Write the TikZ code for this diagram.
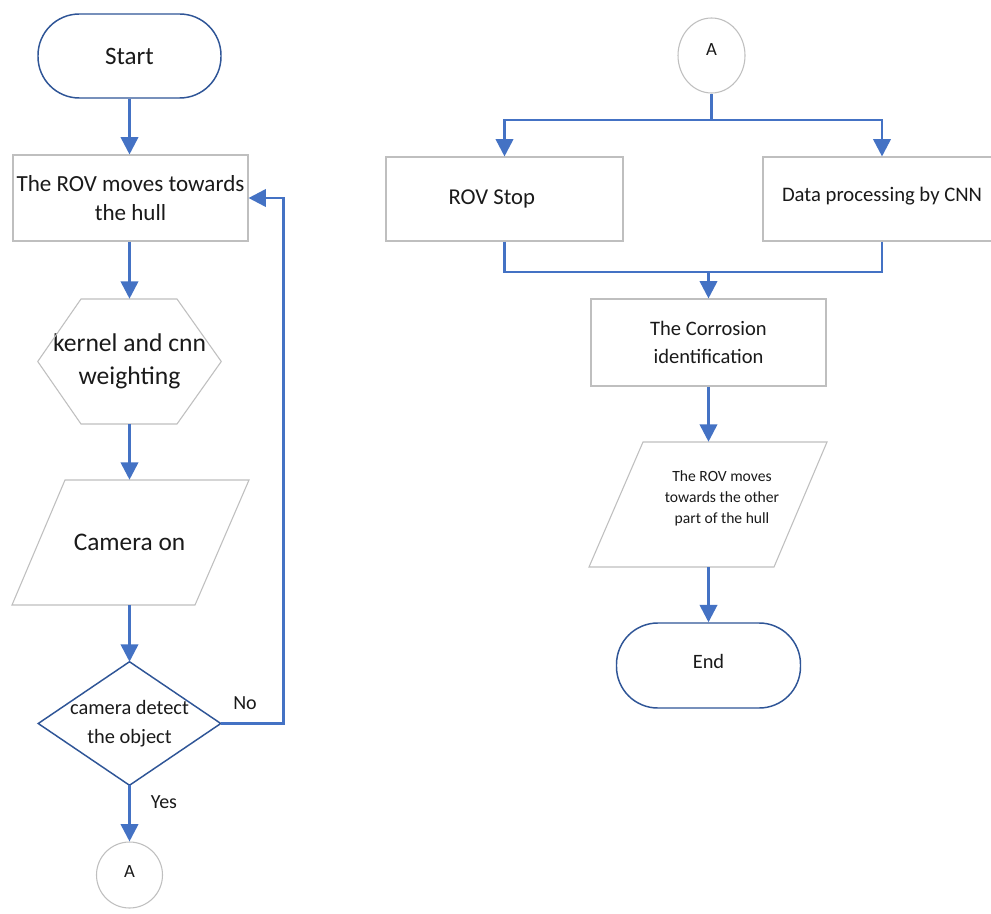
\documentclass[tikz,border=0pt]{standalone}
\usepackage{fontspec}
\setmainfont{Carlito}
\usetikzlibrary{arrows.meta,calc,shapes.geometric}
\definecolor{ablue}{HTML}{4472C4}
\definecolor{dblue}{HTML}{2F5597}
\definecolor{gbord}{HTML}{BFBFBF}
\definecolor{txt}{HTML}{1A1A1A}
\begin{document}
\begin{tikzpicture}[x=0.75pt,y=-0.75pt,
  conn/.style={ablue,line width=2pt},
  arr/.style={conn,-{Triangle[width=13pt,length=13pt]}},
  term/.style={draw=dblue,line width=1.1pt,rounded corners=31pt,inner sep=0pt,text=txt},
  gbox/.style={draw=gbord,line width=0.8pt,inner sep=0pt,text=txt,align=center},
  shp/.style={inner sep=0pt,text=txt,align=center},
  gline/.style={draw=gbord,line width=0.8pt},
  dline/.style={draw=dblue,line width=1.1pt},
  lbl/.style={inner sep=0pt,text=txt}
]
\useasboundingbox (0,0) rectangle (991,913);
\clip (0,0) rectangle (991,913);
\fill[white] (0,0) rectangle (991,913);

% ---------- left column ----------
\node[term,minimum width=137.25pt,minimum height=63pt,font=\fontsize{18.8}{22}\selectfont] (start) at (129.5,56) {\raisebox{-1.5pt}{Start}};

\node[gbox,minimum width=176.25pt,minimum height=64.5pt,font=\fontsize{17.3}{22}\selectfont] (b1) at (130.5,198) {The ROV moves towards\\the hull};

\node[shp,minimum width=137.25pt,minimum height=93.75pt,font=\fontsize{19.2}{24.5}\selectfont] (hex) at (129.5,361.5) {kernel and cnn\\weighting};
\draw[gline] (hex.west) -- (81,299) -- (177,299) -- (hex.east) -- (177,424) -- (81,424) -- cycle;

\node[shp,minimum width=100pt,minimum height=93.75pt,font=\fontsize{19}{23}\selectfont] (p1) at (129.5,542.5) {\raisebox{-2pt}{Camera on}};
\draw[gline] (65,480) -- (249,480) -- (195,605) -- (12,605) -- cycle;

\node[shp,minimum width=136.5pt,minimum height=92.25pt,font=\fontsize{15.3}{21.75}\selectfont] (dia) at (129.5,723.5) {camera detect\\the object};
\draw[dline] (dia.north) -- (dia.east) -- (dia.south) -- (dia.west) -- cycle;

\node[draw=gbord,line width=0.8pt,circle,minimum size=49.5pt,inner sep=0pt,text=txt,font=\fontsize{14}{16}\selectfont] (a1) at (129.5,875) {\raisebox{5pt}{A}};

\node[lbl,font=\fontsize{15}{18}\selectfont] (no) at (245,703) {No};
\node[lbl,font=\fontsize{15}{18}\selectfont] (yes) at (164,802) {Yes};

\draw[arr] (start.south) -- (start.south |- b1.north);
\draw[arr] (b1.south -| hex.north) -- (hex.north);
\draw[arr] (hex.south) -- (p1.north);
\draw[arr] (p1.south) -- (dia.north);
\draw[arr] (dia.south) -- (a1.north);
\coordinate (lr) at (283.5,723.5);
\draw[arr] (dia.east) -- (lr) |- (b1.east);

% ---------- right column ----------
\node[draw=gbord,line width=0.8pt,ellipse,minimum width=50.25pt,minimum height=56.25pt,inner sep=0pt,text=txt,font=\fontsize{14}{16}\selectfont] (a2) at (711.5,55.5) {\raisebox{9pt}{A}};

\node[gbox,minimum width=177.75pt,minimum height=63pt,font=\fontsize{17}{20}\selectfont] (stop) at (504.5,199) {\raisebox{-2pt}{ROV Stop\hspace{19pt}}};
\node[gbox,minimum width=178.5pt,minimum height=63pt,font=\fontsize{15.5}{19}\selectfont] (data) at (882,199) {\raisebox{7pt}{Data processing by CNN}};

\node[gbox,minimum width=176.25pt,minimum height=65.25pt,font=\fontsize{15.4}{21}\selectfont] (corr) at (708.5,342.5) {The Corrosion\\identification};

\node[shp,minimum width=100pt,minimum height=93.75pt] (p2) at (708.5,504.5) {};
\draw[gline] (643,442) -- (827,442) -- (774,567) -- (589,567) -- cycle;
\node[shp,font=\fontsize{11.7}{15.75}\selectfont] (p2t) at (722,498) {The ROV moves\\towards the other\\part of the hull};

\node[term,minimum width=138pt,minimum height=63.75pt,font=\fontsize{15.3}{18}\selectfont] (end) at (708.5,665.5) {\raisebox{6pt}{End}};

\coordinate (split) at (711.5,120);
\draw[conn] (a2.south) -- (split);
\draw[arr] (split) -| (stop.north);
\draw[arr] (split) -| (data.north);

\coordinate (merge) at (708.5,272);
\draw[conn] (stop.south) |- (merge);
\draw[conn] (data.south) |- (merge);
\draw[arr] (merge) -- (corr.north);
\draw[arr] (corr.south) -- (p2.north);
\draw[arr] (p2.south) -- (end.north);
\end{tikzpicture}
\end{document}
